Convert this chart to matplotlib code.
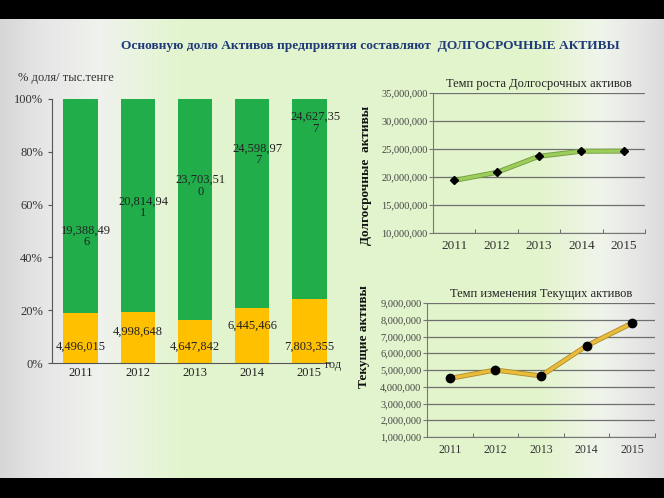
import matplotlib.pyplot as plt
import matplotlib.patheffects as pe
from matplotlib.ticker import FuncFormatter, PercentFormatter
import numpy as np

years = ["2011", "2012", "2013", "2014", "2015"]
current_assets = [4496015, 4998648, 4647842, 6445466, 7803355]
longterm_assets = [19388496, 20814941, 23703510, 24598977, 24627357]

title = "Основную долю Активов предприятия составляют  ДОЛГОСРОЧНЫЕ АКТИВЫ"
title_top = "Темп роста Долгосрочных активов"
title_bottom = "Темп изменения Текущих активов"
ylabel_top = "Долгосрочные  активы"
ylabel_bottom = "Текущие активы"
units_label = "% доля/ тыс.тенге"

# where the value labels sit inside the 100% bars (share of bar height)
green_label_y = [0.48, 0.59, 0.67, 0.79, 0.91]
yellow_label_y = [0.06, 0.12, 0.06, 0.14, 0.06]

plt.rcParams['font.family'] = ['Liberation Serif', 'DejaVu Serif']

W, H = 664, 498
fig = plt.figure(figsize=(W / 100, H / 100), dpi=100)


def px_axes(left, top, right, bottom, **kw):
    return fig.add_axes([left / W, 1 - bottom / H, (right - left) / W, (bottom - top) / H], **kw)


# background: gray edges, pale green middle, black bands top/bottom
xs = np.arange(W)
kx = [0, 40, 100, 180, 540, 600, 640, 663]
kc = np.array([[0.84, 0.84, 0.84], [0.90, 0.90, 0.90], [0.94, 0.95, 0.93], [0.89, 0.96, 0.81],
               [0.89, 0.96, 0.80], [0.94, 0.96, 0.92], [0.90, 0.90, 0.90], [0.86, 0.86, 0.86]])
row = np.stack([np.interp(xs, kx, kc[:, i]) for i in range(3)], axis=1)
img = np.repeat(row[None, :, :], H, axis=0)
img[:19] = 0
img[478:] = 0
bg = fig.add_axes([0, 0, 1, 1])
bg.imshow(img, aspect='auto', extent=[0, W, H, 0])
bg.set_axis_off()

fig.text(370 / W, 1 - 46 / H, title, ha='center', va='center', fontsize=9.6,
         fontweight='bold', color='#1f3a78')

# ---- 100% stacked bars ----
ax = px_axes(52, 99, 330, 363)
ax.patch.set_alpha(0)
x = np.arange(len(years))
total = np.array(current_assets) + np.array(longterm_assets)
share_cur = np.array(current_assets) / total
share_long = np.array(longterm_assets) / total
ax.bar(x, share_cur, width=0.6, color='#ffc000')
ax.bar(x, share_long, width=0.6, bottom=share_cur, color='#22ad4b')
for i in range(len(years)):
    s = f"{longterm_assets[i]:,}"
    ax.text(x[i] + 0.1, green_label_y[i], s[:-1] + "\n" + s[-1], ha='center', va='center',
            fontsize=9, color='#222222', linespacing=1.0)
    ax.text(x[i], yellow_label_y[i], f"{current_assets[i]:,}", ha='center', va='center',
            fontsize=9, color='#222222')
ax.set_xlim(-0.5, 4.36)
ax.set_ylim(0, 1)
ax.set_xticks(x, years)
ax.set_yticks([0, 0.2, 0.4, 0.6, 0.8, 1.0])
ax.yaxis.set_major_formatter(PercentFormatter(1.0, decimals=0))
for side in ['top', 'right']:
    ax.spines[side].set_visible(False)
for side in ['left', 'bottom']:
    ax.spines[side].set_color('#555555')
ax.tick_params(axis='x', length=0, labelsize=9, pad=3, labelcolor='#222222')
ax.tick_params(axis='y', length=3, labelsize=9, color='#555555', labelcolor='#333333')
fig.text(18 / W, 1 - 78 / H, units_label, ha='left', va='center', fontsize=9, color='#333333')
fig.text(325 / W, 1 - 365 / H, "год", ha='left', va='center', fontsize=9, color='#333333')


def style_line_axes(a, ymin, ymax, step, title_text, ylabel_text, xfs, yfs):
    a.patch.set_alpha(0)
    a.set_xlim(-0.5, 4.5)
    a.set_ylim(ymin, ymax)
    a.set_yticks(np.arange(ymin, ymax + 1, step))
    a.yaxis.set_major_formatter(FuncFormatter(lambda v, p: f"{int(v):,}"))
    a.set_xticks(np.arange(len(years)), years)
    a.set_xticks(np.arange(-0.5, 5, 1), minor=True)
    a.tick_params(axis='x', which='major', length=0, labelsize=xfs, pad=5, labelcolor='#333333')
    a.tick_params(axis='x', which='minor', length=3, direction='in', color='#555555')
    a.tick_params(axis='y', length=3, labelsize=7.5, color='#777777', labelcolor='#444444', pad=1)
    a.grid(axis='y', color='#6f6f6f', linewidth=0.9)
    a.set_axisbelow(True)
    for side in ['top', 'right']:
        a.spines[side].set_visible(False)
    for side in ['left', 'bottom']:
        a.spines[side].set_color('#777777')
    a.set_title(title_text, fontsize=9, color='#222222', pad=4)
    a.set_ylabel(ylabel_text, fontsize=yfs, fontweight='bold', color='#111111')


# ---- long-term assets line ----
ax1 = px_axes(433, 93, 645, 233)
ax1.plot(x, longterm_assets, color='#9ccc5a', linewidth=2.4,
         path_effects=[pe.Stroke(linewidth=3.6, foreground='#6e9a3c'), pe.Normal()], zorder=2)
ax1.plot(x, longterm_assets, linestyle='none', marker='D', markersize=4.5,
         markerfacecolor='black', markeredgecolor='black', zorder=3)
style_line_axes(ax1, 10000000, 35000000, 5000000, title_top, ylabel_top, 9.5, 9.5)
ax1.yaxis.set_label_coords(-0.29, 0.41)

# ---- current assets line ----
ax2 = px_axes(427, 303, 655, 437)
ax2.plot(x, current_assets, color='#e8bb3a', linewidth=2.4,
         path_effects=[pe.Stroke(linewidth=3.6, foreground='#b08a2a'), pe.Normal()], zorder=2)
ax2.plot(x, current_assets, linestyle='none', marker='o', markersize=6,
         markerfacecolor='black', markeredgecolor='black', zorder=3)
style_line_axes(ax2, 1000000, 9000000, 1000000, title_bottom, ylabel_bottom, 8.5, 9.5)
ax2.yaxis.set_label_coords(-0.25, 0.75)

fig.savefig("out.png", dpi=100)
